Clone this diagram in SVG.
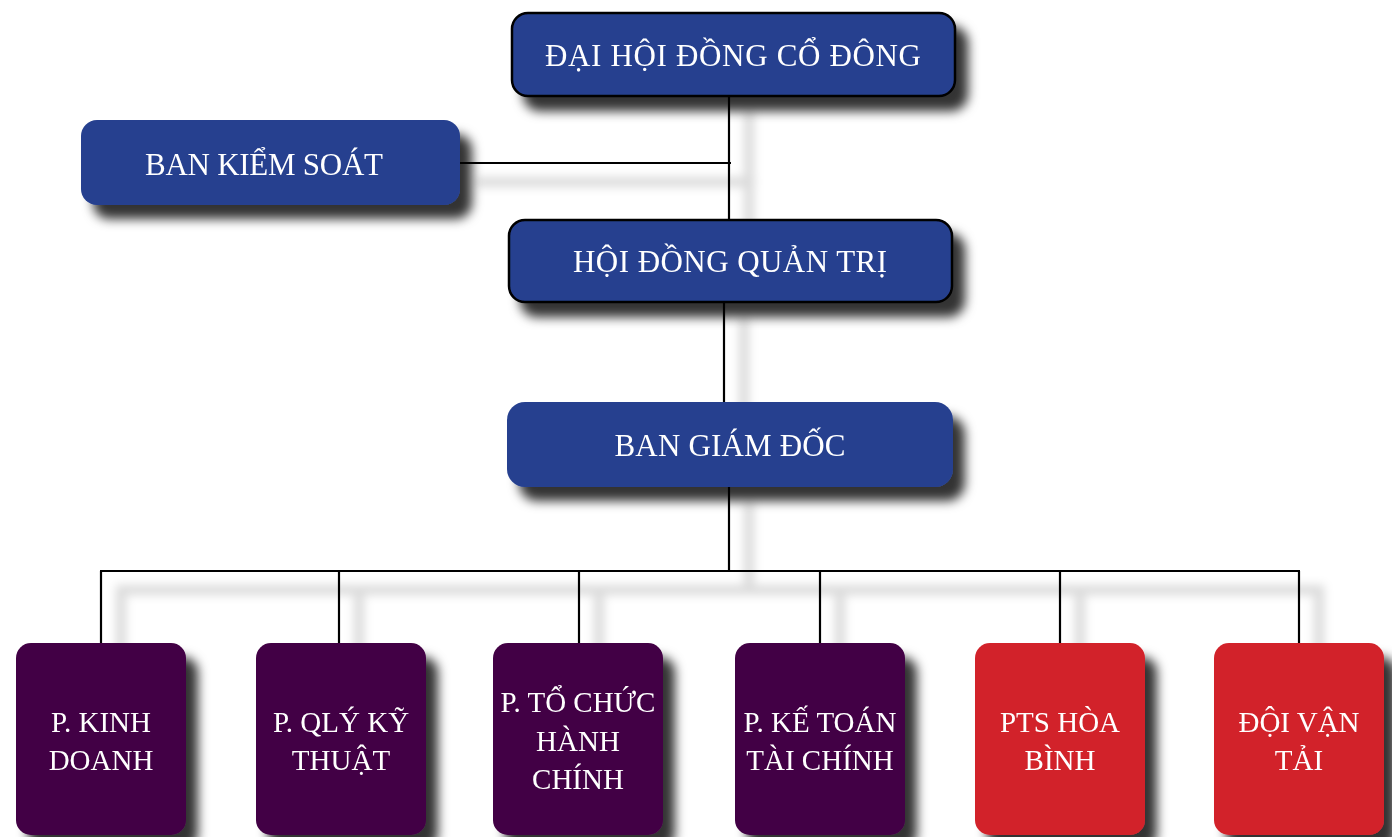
<svg xmlns="http://www.w3.org/2000/svg" width="1392" height="837" viewBox="0 0 1392 837">
<defs>
<style>
.conn{fill:none;stroke:#000;stroke-width:2.2}
.blue{fill:#26408F}
.purple{fill:#420044}
.red{fill:#D2232B}
.edge{stroke:#000;stroke-width:2.5}
.t{font-family:"Liberation Serif","Times New Roman",serif;fill:#fff;text-anchor:middle}
.tt{font-size:31px}
.tb{font-size:29px}
</style>
<filter id="nshadow" x="-20%" y="-20%" width="150%" height="160%">
<feDropShadow dx="12" dy="14" stdDeviation="5.5" flood-color="#000" flood-opacity="0.8"/>
</filter>
<filter id="cshadow" x="-10%" y="-10%" width="130%" height="140%">
<feMorphology in="SourceAlpha" operator="dilate" radius="4" result="d"/>
<feGaussianBlur in="d" stdDeviation="5" result="b"/>
<feOffset in="b" dx="20" dy="19" result="o"/>
<feFlood flood-color="#000" flood-opacity="0.14"/>
<feComposite in2="o" operator="in" result="s"/>
<feMerge><feMergeNode in="s"/><feMergeNode in="SourceGraphic"/></feMerge>
</filter>
</defs>
<rect width="1392" height="837" fill="#fff"/>
<g id="connectors" class="conn" filter="url(#cshadow)">
<path d="M729 96 V220"/>
<path d="M460 163 H731"/>
<path d="M724 302 V402"/>
<path d="M729 487 V571"/>
<path d="M100 571 H1300"/>
<path d="M101 571 V643"/>
<path d="M339 571 V643"/>
<path d="M579 571 V643"/>
<path d="M820 571 V643"/>
<path d="M1060 571 V643"/>
<path d="M1299 571 V643"/>
</g>
<g id="dhdcd" filter="url(#nshadow)">
<rect x="512" y="13" width="443" height="83" rx="16" class="blue edge"/>
<text x="733" y="66" class="t tt" textLength="376">ĐẠI HỘI ĐỒNG CỔ ĐÔNG</text>
</g>
<g id="bks" filter="url(#nshadow)">
<rect x="81" y="120" width="379" height="85" rx="16" class="blue"/>
<text x="264" y="175" class="t tt" textLength="238">BAN KIỂM SOÁT</text>
</g>
<g id="hdqt" filter="url(#nshadow)">
<rect x="509" y="220" width="443" height="82" rx="16" class="blue edge"/>
<text x="730" y="272" class="t tt" textLength="314">HỘI ĐỒNG QUẢN TRỊ</text>
</g>
<g id="bgd" filter="url(#nshadow)">
<rect x="507" y="402" width="446" height="85" rx="18" class="blue"/>
<text x="730" y="456" class="t tt" textLength="231">BAN GIÁM ĐỐC</text>
</g>
<g id="kinhdoanh" filter="url(#nshadow)">
<rect x="16" y="643" width="170" height="192" rx="15" class="purple"/>
<text x="101" y="732" class="t tb">P. KINH</text>
<text x="101" y="770" class="t tb">DOANH</text>
</g>
<g id="kythuat" filter="url(#nshadow)">
<rect x="256" y="643" width="170" height="192" rx="15" class="purple"/>
<text x="341" y="732" class="t tb">P. QLÝ KỸ</text>
<text x="341" y="770" class="t tb">THUẬT</text>
</g>
<g id="tochuc" filter="url(#nshadow)">
<rect x="493" y="643" width="170" height="192" rx="15" class="purple"/>
<text x="578" y="712" class="t tb">P. TỔ CHỨC</text>
<text x="578" y="751" class="t tb">HÀNH</text>
<text x="578" y="789" class="t tb">CHÍNH</text>
</g>
<g id="ketoan" filter="url(#nshadow)">
<rect x="735" y="643" width="170" height="192" rx="15" class="purple"/>
<text x="820" y="732" class="t tb">P. KẾ TOÁN</text>
<text x="820" y="770" class="t tb">TÀI CHÍNH</text>
</g>
<g id="pts" filter="url(#nshadow)">
<rect x="975" y="643" width="170" height="192" rx="15" class="red"/>
<text x="1060" y="732" class="t tb">PTS HÒA</text>
<text x="1060" y="770" class="t tb">BÌNH</text>
</g>
<g id="vantai" filter="url(#nshadow)">
<rect x="1214" y="643" width="170" height="192" rx="15" class="red"/>
<text x="1299" y="732" class="t tb">ĐỘI VẬN</text>
<text x="1299" y="770" class="t tb">TẢI</text>
</g>
</svg>
